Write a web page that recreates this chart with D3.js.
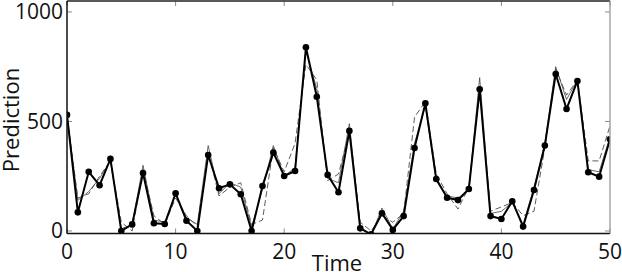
<!DOCTYPE html>
<html>
<head>
    <script src="https://d3js.org/d3.v7.min.js"></script>
    <style>
        body { margin: 0; background: #fff; font-family: "Open Sans", sans-serif; }
        .tick-label { font-size: 21px; fill: #111; }
        .axis-title { font-size: 22px; fill: #111; }
    </style>
</head>
<body>
<div id="chart"></div>
<script>
    // time steps 0..50
    const timeSteps = d3.range(0, 51);
    const xTicks = [0, 10, 20, 30, 40, 50];
    const yTicks = [0, 500, 1000];

    // observed values (thick line with dots)
    const observed = [530, 85, 270, 209, 329, 0, 30, 265, 35, 32, 172, 47, 0, 347, 195, 213, 168, 0, 205, 358,
        251, 274, 839, 613, 256, 177, 457, 12, -15, 81, 5, 68, 379, 583, 237, 152, 141, 192, 647, 68,
        55, 136, 20, 187, 390, 717, 557, 685, 268, 248, 419];

    // first model prediction (thin solid)
    const predA = [530, 140, 180, 240, 320, 10, 30, 300, 50, 40, 170, 60, 30, 390, 170, 220, 200, 20, 190, 390,
        250, 290, 820, 650, 240, 220, 490, 20, -20, 105, 10, 90, 400, 570, 230, 160, 150, 190, 700, 80,
        90, 130, 30, 200, 400, 750, 600, 690, 280, 270, 430];

    // second model prediction (dashed)
    const predB = [520, 150, 170, 250, 320, 40, 0, 280, 70, 30, 150, 70, 20, 360, 160, 200, 220, 30, 50, 380,
        270, 400, 760, 690, 230, 260, 450, 40, 0, 70, 40, 80, 520, 590, 260, 170, 100, 200, 640, 90,
        110, 130, 70, 90, 380, 740, 620, 690, 320, 320, 480];

    const W = 622, H = 272;
    const m = { left: 67, right: 610, top: 1, bottom: 233.5 };

    const svg = d3.select("#chart").append("svg")
        .attr("width", W).attr("height", H);

    const x = d3.scaleLinear().domain([0, 50]).range([m.left, m.right]);
    const y = d3.scaleLinear().domain([-11.5, 1050]).range([m.bottom, m.top]);

    svg.append("clipPath").attr("id", "plot")
        .append("rect")
        .attr("x", m.left).attr("y", m.top)
        .attr("width", m.right - m.left).attr("height", m.bottom - m.top);

    // inner ticks, matlab style
    const tickLen = 5;
    const tickG = svg.append("g").attr("stroke", "#888").attr("stroke-width", 1);
    xTicks.forEach(t => {
        tickG.append("line").attr("x1", x(t)).attr("x2", x(t)).attr("y1", m.bottom).attr("y2", m.bottom - tickLen);
        tickG.append("line").attr("x1", x(t)).attr("x2", x(t)).attr("y1", m.top).attr("y2", m.top + tickLen);
    });
    yTicks.forEach(t => {
        tickG.append("line").attr("x1", m.left).attr("x2", m.left + tickLen).attr("y1", y(t)).attr("y2", y(t));
        tickG.append("line").attr("x1", m.right).attr("x2", m.right - tickLen).attr("y1", y(t)).attr("y2", y(t));
    });

    // lines
    const line = series => d3.line()
        .x((d, i) => x(timeSteps[i]))
        .y(d => y(d))(series);

    const plot = svg.append("g").attr("clip-path", "url(#plot)");

    plot.append("path")
        .attr("d", line(predB))
        .attr("fill", "none")
        .attr("stroke", "#333")
        .attr("stroke-width", 0.8)
        .attr("stroke-dasharray", "6,3");

    plot.append("path")
        .attr("d", line(predA))
        .attr("fill", "none")
        .attr("stroke", "#444")
        .attr("stroke-width", 0.8);

    plot.append("path")
        .attr("d", line(observed))
        .attr("fill", "none")
        .attr("stroke", "#000")
        .attr("stroke-width", 2);

    plot.selectAll("circle")
        .data(observed)
        .join("circle")
        .attr("cx", (d, i) => x(timeSteps[i]))
        .attr("cy", d => y(d))
        .attr("r", 3.3)
        .attr("fill", "#000");

    // box
    svg.append("line").attr("x1", m.left).attr("x2", m.right).attr("y1", m.top).attr("y2", m.top)
        .attr("stroke", "#222").attr("stroke-width", 1.3);
    svg.append("line").attr("x1", m.left).attr("x2", m.right).attr("y1", m.bottom).attr("y2", m.bottom)
        .attr("stroke", "#111").attr("stroke-width", 1.5);
    svg.append("line").attr("x1", m.left).attr("x2", m.left).attr("y1", m.top).attr("y2", m.bottom)
        .attr("stroke", "#111").attr("stroke-width", 1.5);
    svg.append("line").attr("x1", m.right).attr("x2", m.right).attr("y1", m.top).attr("y2", m.bottom)
        .attr("stroke", "#999").attr("stroke-width", 1.3);

    // tick labels
    svg.selectAll(".xlab")
        .data(xTicks)
        .join("text")
        .attr("class", "tick-label xlab")
        .attr("x", d => x(d))
        .attr("y", 259)
        .attr("text-anchor", "middle")
        .text(d => d);

    svg.selectAll(".ylab")
        .data(yTicks)
        .join("text")
        .attr("class", "tick-label ylab")
        .attr("x", 63)
        .attr("y", d => y(d) + 7.5)
        .attr("text-anchor", "end")
        .text(d => d);

    // axis titles
    svg.append("text")
        .attr("class", "axis-title")
        .attr("x", 337)
        .attr("y", 271)
        .attr("text-anchor", "middle")
        .text("Time");

    svg.append("text")
        .attr("class", "axis-title")
        .attr("transform", "translate(19,120) rotate(-90)")
        .attr("text-anchor", "middle")
        .text("Prediction");
</script>
</body>
</html>
